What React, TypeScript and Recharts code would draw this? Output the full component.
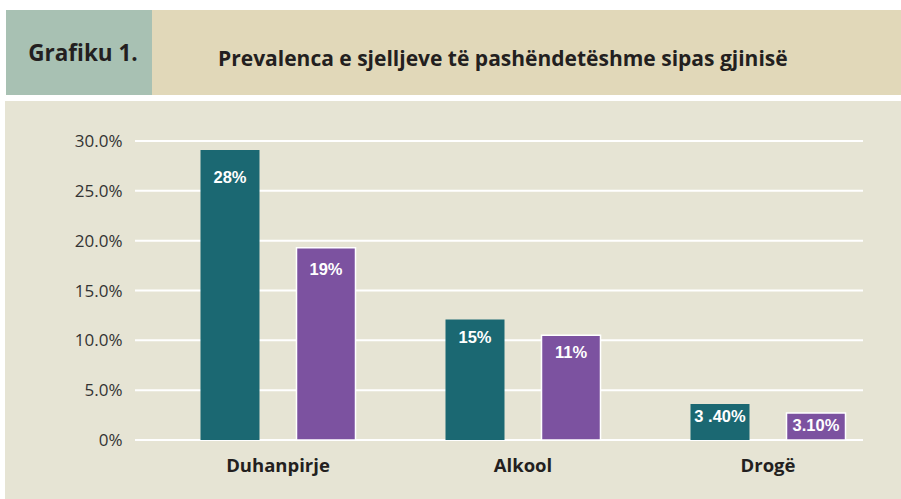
import React from "react";
import { BarChart, Bar, XAxis, YAxis, CartesianGrid, LabelList } from "recharts";

const categories = ["Duhanpirje", "Alkool", "Drogë"];
const maleValues = [29.1, 12.1, 3.6];
const femaleValues = [19.3, 10.5, 2.7];
const maleLabels = ["28%", "15%", "3 .40%"];
const femaleLabels = ["19%", "11%", "3.10%"];
const yTicks = [0, 5, 10, 15, 20, 25, 30];

const data = categories.map((c, i) => ({
  name: c,
  m: maleValues[i],
  f: femaleValues[i],
  ml: maleLabels[i],
  fl: femaleLabels[i],
}));

const TEAL = "#1b6872";
const PURPLE = "#7c52a0";
const FONT = "'Open Sans', Lato, sans-serif";

const fmtY = (v: number) => (v === 0 ? "0%" : v.toFixed(1) + "%");

const ValueLabel = (props: any) => {
  const { x, y, width, height, value } = props;
  const off = 10 + Math.abs(height) * 0.06;
  return (
    <text
      x={x + width / 2}
      y={y + off}
      textAnchor="middle"
      dominantBaseline="central"
      fill="#ffffff"
      fontFamily="'Liberation Sans', Arial, sans-serif"
      fontWeight="bold"
      fontSize={16.5}
    >
      {value}
    </text>
  );
};

export default function App() {
  return (
    <div
      style={{
        position: "absolute",
        left: 0,
        top: 0,
        width: 901,
        height: 499,
        background: "#ffffff",
        overflow: "hidden",
        fontFamily: FONT,
      }}
    >
      <div
        style={{
          position: "absolute",
          left: 6,
          top: 10,
          width: 146,
          height: 85,
          background: "#a8c1b3",
          display: "flex",
          alignItems: "center",
          justifyContent: "center",
          fontWeight: 700,
          fontSize: 22.5,
          color: "#231f20",
        }}
      >
        <span style={{ marginLeft: 8 }}>Grafiku 1.</span>
      </div>
      <div
        style={{
          position: "absolute",
          left: 152,
          top: 10,
          width: 749,
          height: 85,
          background: "#e1d8b9",
        }}
      >
        <div
          style={{
            position: "absolute",
            left: 66,
            top: 0,
            height: 96,
            lineHeight: "96px",
            fontWeight: 700,
            fontSize: 21,
            color: "#231f20",
            whiteSpace: "nowrap",
          }}
        >
          Prevalenca e sjelljeve të pashëndetëshme sipas gjinisë
        </div>
      </div>
      <div
        style={{
          position: "absolute",
          left: 5,
          top: 101,
          width: 896,
          height: 398,
          background: "#e6e4d4",
        }}
      />
      <div style={{ position: "absolute", left: 0, top: 101 }}>
        <BarChart
          width={901}
          height={398}
          data={data}
          margin={{ top: 40, right: 10.5, bottom: 29, left: 75.5 }}
          barSize={59}
          barGap={37}
        >
          <CartesianGrid
            x={135}
            width={728}
            vertical={false}
            stroke="#ffffff"
            strokeWidth={2}
          />
          <XAxis
            dataKey="name"
            axisLine={false}
            tickLine={false}
            height={30}
            tickMargin={13}
            tick={{
              fill: "#231f20",
              fontSize: 18.5,
              fontWeight: 700,
              fontFamily: FONT,
            }}
          />
          <YAxis
            domain={[0, 30]}
            ticks={yTicks}
            width={80}
            axisLine={false}
            tickLine={false}
            tickSize={0}
            tickMargin={33}
            tickFormatter={fmtY}
            tick={{
              fill: "#333333",
              fontSize: 17,
              fontFamily: FONT,
            }}
          />
          <Bar dataKey="m" fill={TEAL} isAnimationActive={false}>
            <LabelList dataKey="ml" content={ValueLabel} />
          </Bar>
          <Bar
            dataKey="f"
            fill={PURPLE}
            stroke="#ffffff"
            strokeWidth={1.5}
            isAnimationActive={false}
          >
            <LabelList dataKey="fl" content={ValueLabel} />
          </Bar>
        </BarChart>
      </div>
    </div>
  );
}
